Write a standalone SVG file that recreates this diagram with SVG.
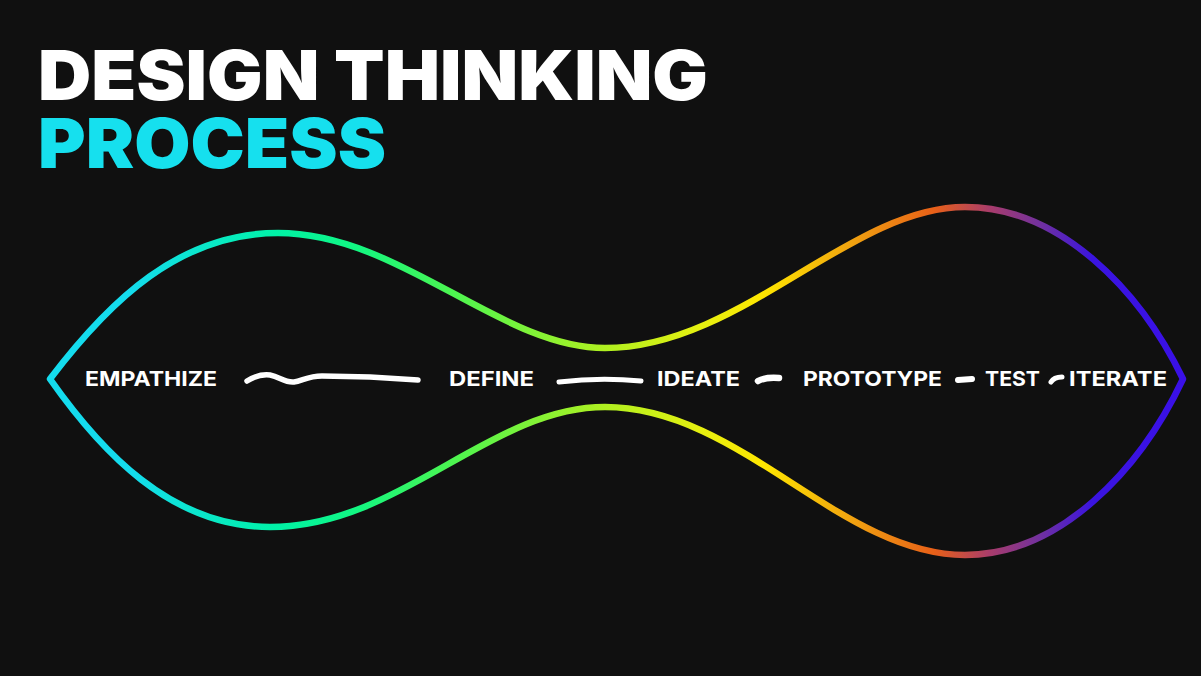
<svg xmlns="http://www.w3.org/2000/svg" width="1201" height="676" viewBox="0 0 1201 676">
  <defs>
    <linearGradient id="rainbow" gradientUnits="userSpaceOnUse" x1="50" y1="0" x2="1183" y2="0">
      <stop offset="0" stop-color="#14dcee"/>
      <stop offset="0.07" stop-color="#14dcee"/>
      <stop offset="0.2" stop-color="#00f2a6"/>
      <stop offset="0.27" stop-color="#12f782"/>
      <stop offset="0.355" stop-color="#4cf550"/>
      <stop offset="0.49" stop-color="#b0f020"/>
      <stop offset="0.575" stop-color="#e6f010"/>
      <stop offset="0.63" stop-color="#ffe600"/>
      <stop offset="0.71" stop-color="#f0a010"/>
      <stop offset="0.78" stop-color="#e86018"/>
      <stop offset="0.83" stop-color="#a83c6c"/>
      <stop offset="0.875" stop-color="#7030a0"/>
      <stop offset="0.92" stop-color="#3a14e0"/>
      <stop offset="1" stop-color="#3a10e8"/>
    </linearGradient>
    <style>
      .title { font-family: Inter, "Liberation Sans", sans-serif; font-weight: 900; font-size: 69px; }
      .label { font-family: Inter, "Liberation Sans", sans-serif; font-weight: 700; font-size: 20.5px; fill: #ffffff; }
      .brush { fill: none; stroke: #ffffff; stroke-linecap: round; stroke-linejoin: round; }
    </style>
  </defs>
  <rect width="1201" height="676" fill="#101010"/>

  <g id="title">
    <text class="title" x="38" y="100" fill="#ffffff" textLength="670" lengthAdjust="spacingAndGlyphs">DESIGN THINKING</text>
    <text class="title" x="38" y="168" fill="#16e0ee" textLength="348" lengthAdjust="spacingAndGlyphs">PROCESS</text>
  </g>

  <g id="outline">
    <path d="M50,379 C110,300 180,233 278,233 C400,233 500,348 605,348 C740,348 850,207 965,207 C1060,207 1140,290 1183,379 C1140,470 1060,555 965,555 C840,555 740,407 605,407 C490,407 400,527 270,527 C170,527 100,450 50,379 Z" fill="none" stroke="url(#rainbow)" stroke-width="6.5" stroke-linejoin="round"/>
  </g>

  <g id="connectors">
    <path class="brush" stroke-width="5.5" d="M247,381 C255,376 262,374 270,375 C280,377 285,383 294,382 C302,381 308,376 322,376 L370,377 L418,380"/>
    <path class="brush" stroke-width="5" d="M559,382 Q600,377 641,381"/>
    <path class="brush" stroke-width="6.5" d="M758,381 Q765,377 779,378"/>
    <path class="brush" stroke-width="6" d="M958,380 L972,379"/>
    <path class="brush" stroke-width="5" d="M1051,382 Q1054,377 1062,377"/>
  </g>

  <g id="empathize"><text class="label" x="85" y="386" textLength="132" lengthAdjust="spacingAndGlyphs">EMPATHIZE</text></g>
  <g id="define"><text class="label" x="449" y="386" textLength="85" lengthAdjust="spacingAndGlyphs">DEFINE</text></g>
  <g id="ideate"><text class="label" x="657" y="386" textLength="83" lengthAdjust="spacingAndGlyphs">IDEATE</text></g>
  <g id="prototype"><text class="label" x="803" y="386" textLength="139" lengthAdjust="spacingAndGlyphs">PROTOTYPE</text></g>
  <g id="test"><text class="label" x="985" y="386" textLength="55" lengthAdjust="spacingAndGlyphs">TEST</text></g>
  <g id="iterate"><text class="label" x="1069" y="386" textLength="98" lengthAdjust="spacingAndGlyphs">ITERATE</text></g>
</svg>
